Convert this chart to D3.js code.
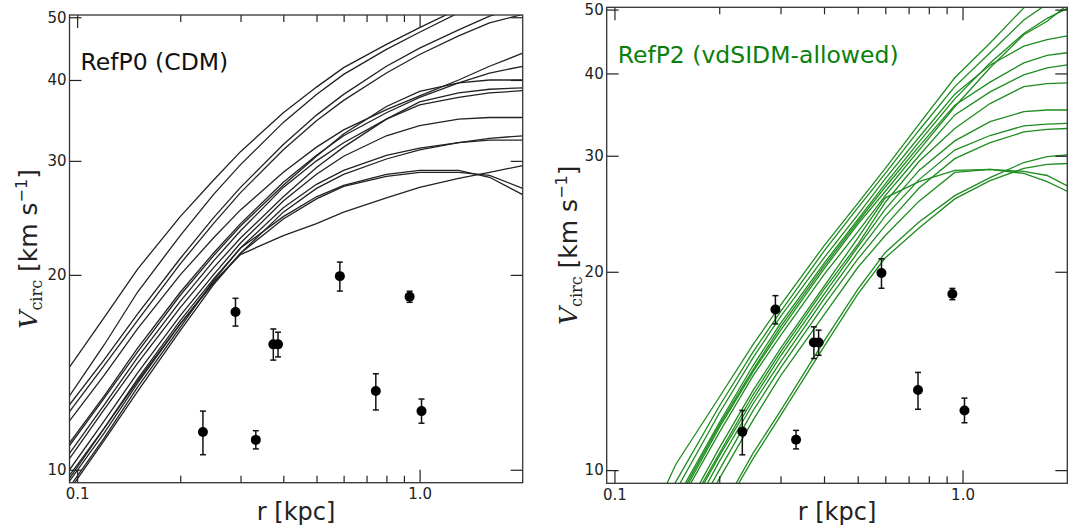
<!DOCTYPE html>
<html>
<head>
<meta charset="utf-8">
<script src="https://cdn.jsdelivr.net/npm/d3@7"></script>
<style>
  body { margin: 0; background: #fff; }
  svg { display: block; font-family: "DejaVu Sans", sans-serif; }
</style>
</head>
<body>
<div id="chart"></div>
<script>
// radios (kpc) donde se leen las curvas
const cdmRadii = [0.095, 0.12, 0.15, 0.2, 0.25, 0.3, 0.4, 0.5, 0.6, 0.8, 1.0, 1.3, 1.6, 2.0];
// curvas CDM (km/s), una fila por halo
const cdmCurves = [
  [14.4, 17.2, 20.4, 24.6, 28.0, 31.0, 35.6, 39.0, 41.8, 45.4, 48.2, 51.5, 54.0, 57.0],
  [13.0, 15.6, 18.8, 23.0, 26.6, 29.6, 34.4, 38.0, 40.8, 44.6, 47.4, 50.8, 53.0, 56.0],
  [12.6, 14.8, 17.4, 21.2, 24.5, 27.3, 31.8, 35.3, 38.0, 42.0, 44.8, 47.8, 50.2, 52.0],
  [12.3, 14.5, 17.0, 20.8, 24.0, 26.8, 31.2, 34.6, 37.2, 41.0, 43.8, 46.8, 49.0, 50.5],
  [11.9, 14.0, 16.5, 20.0, 22.8, 25.2, 28.8, 31.5, 33.5, 36.0, 37.8, 40.0, 42.0, 44.0],
  [11.0, 13.0, 15.4, 18.8, 21.6, 24.0, 27.8, 30.6, 32.8, 35.6, 37.6, 39.6, 41.0, 42.0],
  [10.9, 12.9, 15.2, 18.6, 21.4, 23.8, 27.5, 30.5, 33.0, 36.4, 38.4, 39.6, 40.0, 40.0],
  [10.6, 12.6, 14.9, 18.2, 21.0, 23.4, 27.3, 30.0, 32.0, 34.8, 36.6, 37.6, 38.2, 38.5],
  [10.4, 12.4, 14.6, 17.8, 20.5, 22.8, 26.4, 29.3, 31.5, 34.8, 37.0, 38.2, 38.7, 38.9],
  [10.0, 11.9, 14.1, 17.3, 20.0, 22.4, 26.0, 28.6, 30.5, 32.8, 34.0, 34.8, 35.0, 35.0],
  [9.8, 11.6, 13.8, 17.0, 19.7, 22.0, 25.4, 27.6, 29.0, 30.6, 31.4, 32.0, 32.3, 32.3],
  [9.6, 11.4, 13.6, 16.8, 19.4, 21.6, 25.0, 27.2, 28.6, 30.2, 31.2, 32.0, 32.5, 32.8],
  [9.7, 11.6, 13.7, 16.8, 19.5, 21.5, 23.0, 24.0, 25.0, 26.3, 27.3, 28.2, 28.8, 29.5],
  [9.4, 11.2, 13.4, 16.6, 19.6, 22.0, 24.6, 26.4, 27.5, 28.6, 29.0, 29.0, 28.3, 26.6],
  [9.3, 11.1, 13.2, 16.4, 19.3, 21.6, 24.4, 26.2, 27.4, 28.4, 28.8, 28.8, 28.5, 27.2]
];

const sidmRadii = [0.12, 0.15, 0.2, 0.25, 0.3, 0.4, 0.5, 0.6, 0.75, 0.95, 1.2, 1.5, 1.75, 2.0];
// curvas vdSIDM (km/s)
const sidmCurves = [
  [7.9, 10.2, 12.9, 15.5, 17.8, 21.9, 25.4, 28.7, 33.5, 39.4, 44.5, 50.3, 54.0, 58.0],
  [7.6, 9.6, 12.5, 15.1, 17.4, 21.5, 25.0, 28.2, 32.8, 38.2, 43.0, 48.2, 51.0, 54.0],
  [7.4, 9.3, 12.2, 14.8, 17.1, 21.0, 24.4, 27.7, 32.0, 37.2, 41.2, 44.0, 45.0, 45.6],
  [7.2, 9.0, 11.8, 14.4, 16.7, 20.6, 24.0, 27.2, 31.5, 36.6, 41.5, 46.0, 48.5, 50.2],
  [7.1, 8.9, 11.7, 14.2, 16.5, 20.4, 23.8, 26.9, 31.0, 35.8, 38.8, 41.5, 42.6, 43.0],
  [7.0, 8.8, 11.6, 14.1, 16.3, 20.2, 23.6, 26.5, 30.6, 35.6, 40.8, 45.8, 48.0, 50.8],
  [6.9, 8.7, 11.4, 13.9, 16.0, 19.8, 23.0, 26.1, 30.0, 34.6, 37.5, 39.8, 40.8, 41.2],
  [6.5, 8.2, 10.8, 13.2, 15.3, 19.0, 22.5, 25.9, 27.4, 28.5, 28.6, 28.2, 27.4, 26.5],
  [6.4, 8.1, 10.6, 13.0, 15.1, 18.8, 22.0, 25.5, 29.4, 33.0, 36.0, 38.2, 38.6, 38.7],
  [6.3, 8.0, 10.5, 12.8, 14.9, 18.5, 21.8, 24.9, 28.5, 31.6, 33.8, 35.0, 35.2, 35.2],
  [6.2, 7.8, 10.3, 12.6, 14.6, 18.2, 21.4, 24.3, 27.6, 30.6, 32.2, 33.3, 33.5, 33.6],
  [6.0, 7.6, 10.0, 12.3, 14.3, 17.8, 20.9, 23.5, 26.8, 29.7, 31.4, 32.6, 32.9, 33.0],
  [5.8, 7.4, 9.7, 11.9, 13.9, 17.2, 20.3, 22.7, 25.6, 28.3, 28.6, 28.4, 28.0, 27.0],
  [5.5, 7.0, 8.6, 10.6, 12.3, 15.7, 18.8, 21.4, 23.8, 26.1, 27.8, 29.3, 29.9, 30.1],
  [5.4, 6.9, 8.5, 10.4, 12.1, 15.4, 18.5, 21.0, 23.3, 25.8, 27.5, 28.7, 29.1, 29.2]
];

// datos observados (r, Vcirc, barras de error)
const obsR  = [0.233, 0.290, 0.3325, 0.374, 0.386, 0.585, 0.745, 0.935, 1.013];
const obsV  = [11.44, 17.53, 11.12, 15.62, 15.62, 19.91, 13.23, 18.51, 12.32];
const obsLo = [10.55, 16.67, 10.77, 14.77, 14.94, 18.88, 12.37, 18.14, 11.80];
const obsHi = [12.32, 18.40, 11.49, 16.50, 16.31, 20.93, 14.07, 18.87, 12.86];

const xDomain = [0.095, 2.0];
const yDomain = [9.55, 50.4];
const xMajor = [0.1, 1.0];
const xMinor = [0.2, 0.3, 0.4, 0.5, 0.6, 0.7, 0.8, 0.9];
const yMajor = [10, 20, 30, 40, 50];

const panels = [
  { id: "p0", title: "RefP0 (CDM)", titleColor: "#111", lineColor: "#222",
    radii: cdmRadii, curves: cdmCurves, left: 69.5, right: 522.7, top: 15, bottom: 482.7, labelX: 37 },
  { id: "p2", title: "RefP2 (vdSIDM-allowed)", titleColor: "#0a800a", lineColor: "#1e8c1e",
    radii: sidmRadii, curves: sidmCurves, left: 606.7, right: 1067.3, top: 7.3, bottom: 483.3, labelX: 577 }
];

const W = 1075, H = 529;
const svg = d3.select("#chart").append("svg").attr("width", W).attr("height", H);

panels.forEach(p => {
  const x = d3.scaleLog(xDomain, [p.left, p.right]);
  const y = d3.scaleLog(yDomain, [p.bottom, p.top]);
  const g = svg.append("g");

  g.append("clipPath").attr("id", "clip-" + p.id)
    .append("rect")
    .attr("x", p.left).attr("y", p.top)
    .attr("width", p.right - p.left).attr("height", p.bottom - p.top);

  // curvas
  const line = d3.line().x(d => x(d[0])).y(d => y(d[1]));
  g.append("g")
    .attr("clip-path", `url(#clip-${p.id})`)
    .attr("fill", "none")
    .attr("stroke", p.lineColor)
    .attr("stroke-width", 1.3)
    .selectAll("path")
    .data(p.curves)
    .join("path")
    .attr("d", vals => line(vals.map((v, i) => [p.radii[i], v])));

  // ejes (ticks hacia dentro)
  const tickFont = sel => sel.selectAll("text").attr("font-size", 15).attr("fill", "#222")
    .attr("font-family", "DejaVu Sans, sans-serif");
  const clean = sel => { sel.select(".domain").remove(); sel.selectAll("line").attr("stroke", "#222").attr("stroke-width", 1.2); };

  g.append("g").attr("transform", `translate(0,${p.bottom})`)
    .call(d3.axisBottom(x).tickValues(xMajor).tickSize(-13).tickPadding(6).tickFormat(d3.format(".1f")))
    .call(clean).call(tickFont);
  g.append("g").attr("transform", `translate(0,${p.bottom})`)
    .call(d3.axisBottom(x).tickValues(xMinor).tickSize(-7).tickFormat(""))
    .call(clean);
  g.append("g").attr("transform", `translate(0,${p.top})`)
    .call(d3.axisTop(x).tickValues(xMajor).tickSize(-13).tickFormat(""))
    .call(clean);
  g.append("g").attr("transform", `translate(0,${p.top})`)
    .call(d3.axisTop(x).tickValues(xMinor).tickSize(-7).tickFormat(""))
    .call(clean);
  g.append("g").attr("transform", `translate(${p.left},0)`)
    .call(d3.axisLeft(y).tickValues(yMajor).tickSize(-12).tickPadding(3).tickFormat(d3.format("d")))
    .call(clean).call(tickFont);
  g.append("g").attr("transform", `translate(${p.right},0)`)
    .call(d3.axisRight(y).tickValues(yMajor).tickSize(-12).tickFormat(""))
    .call(clean);

  // marco
  g.append("rect")
    .attr("x", p.left).attr("y", p.top)
    .attr("width", p.right - p.left).attr("height", p.bottom - p.top)
    .attr("fill", "none").attr("stroke", "#333").attr("stroke-width", 1.3);

  // puntos observados con barras de error
  const obs = obsR.map((r, i) => ({ r, v: obsV[i], lo: obsLo[i], hi: obsHi[i] }));
  const pts = g.append("g").selectAll("g").data(obs).join("g");
  pts.append("line")
    .attr("x1", d => x(d.r)).attr("x2", d => x(d.r))
    .attr("y1", d => y(d.lo)).attr("y2", d => y(d.hi))
    .attr("stroke", "#111").attr("stroke-width", 1.5);
  pts.selectAll(".cap").data(d => [[d.r, d.lo], [d.r, d.hi]]).join("line")
    .attr("x1", d => x(d[0]) - 3).attr("x2", d => x(d[0]) + 3)
    .attr("y1", d => y(d[1])).attr("y2", d => y(d[1]))
    .attr("stroke", "#111").attr("stroke-width", 1.5);
  pts.append("circle")
    .attr("cx", d => x(d.r)).attr("cy", d => y(d.v)).attr("r", 5)
    .attr("fill", "#000");

  // titulo del panel
  g.append("text")
    .attr("x", p.left + 11).attr("y", p.id === "p0" ? 70 : 63)
    .attr("font-size", 23.5).attr("fill", p.titleColor)
    .text(p.title);

  // etiqueta eje x
  g.append("text")
    .attr("x", (p.left + p.right) / 2).attr("y", 520)
    .attr("text-anchor", "middle").attr("font-size", 24).attr("fill", "#222")
    .text("r [kpc]");

  // etiqueta eje y
  const yl = g.append("text")
    .attr("transform", `translate(${p.labelX},${(p.top + p.bottom) / 2}) rotate(-90)`)
    .attr("text-anchor", "middle").attr("font-size", 25).attr("fill", "#222");
  yl.append("tspan").attr("font-family", "DejaVu Serif, serif").attr("font-style", "italic").text("V");
  yl.append("tspan").attr("font-family", "DejaVu Serif, serif").attr("font-size", 16).attr("dy", 5).text("circ");
  yl.append("tspan").attr("dy", -5).text(" [km s");
  yl.append("tspan").attr("font-size", 16).attr("dy", -10).text("\u22121");
  yl.append("tspan").attr("dy", 10).text("]");
});
</script>
</body>
</html>
